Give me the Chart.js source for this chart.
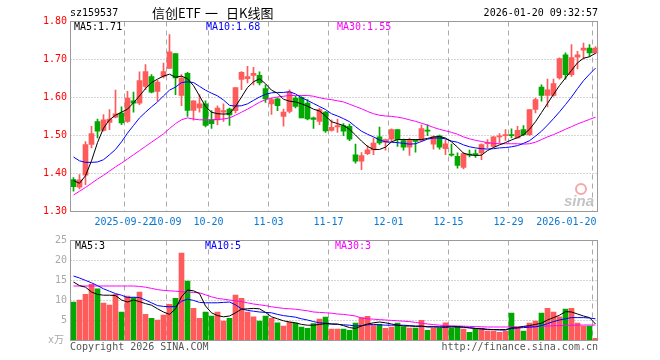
<!DOCTYPE html>
<html><head><meta charset="utf-8">
<script src="https://cdn.jsdelivr.net/npm/chart.js@4.4.1/dist/chart.umd.min.js"></script>
<style>
html,body{margin:0;padding:0;background:#fff;width:660px;height:360px;overflow:hidden;}
#wrap{position:relative;width:660px;height:360px;font-family:"DejaVu Sans Mono",monospace;font-size:10px;color:#000;}
canvas{position:absolute;left:0;}
.t{position:absolute;white-space:nowrap;line-height:12px;}
.cj{font-family:'Noto Sans CJK SC';font-size:13px;line-height:19px;top:3px;}
</style></head><body>
<div id="wrap">
<canvas id="pc" width="660" height="235" style="top:0"></canvas>
<canvas id="vc" width="660" height="125" style="top:235px"></canvas>
<div class="t" style="left:70px;top:7px;">sz159537</div>
<div class="t cj" style="left:152px;">信创ETF</div>
<div class="t cj" style="left:205px;">一</div>
<div class="t cj" style="left:226px;">日K线图</div>
<div class="t" style="right:62px;top:7px;">2026-01-20 09:32:57</div>
<div class="t" style="left:74px;top:21px;color:#000;">MA5:1.71</div>
<div class="t" style="left:206px;top:21px;color:#0000ff;">MA10:1.68</div>
<div class="t" style="left:337px;top:21px;color:#ff00ff;">MA30:1.55</div>
<div class="t" style="left:75px;top:240px;color:#000;">MA5:3</div>
<div class="t" style="left:205px;top:240px;color:#0000ff;">MA10:5</div>
<div class="t" style="left:335px;top:240px;color:#ff00ff;">MA30:3</div>
<div class="t" style="left:70px;top:341px;color:#555;">Copyright 2026 SINA.COM</div>
<div class="t" style="right:62px;top:341px;color:#555;">http://finance.sina.com.cn</div>
<div style="position:absolute;left:575px;top:183px;width:8px;height:8px;border:2px solid #f4a8a8;border-radius:50%;"></div>
<div class="t" style="left:564px;top:193px;font-family:'Liberation Sans';font-style:italic;font-weight:bold;font-size:15px;line-height:15px;color:#c4c4c4;">sina</div>
</div>
<script>
const categories = ["09-09","09-10","09-11","09-12","09-15","09-16","09-17","09-18","09-19","09-22",
"09-23","09-24","09-25","09-26","09-29","09-30","10-09","10-10","10-13","10-14",
"10-15","10-16","10-17","10-20","10-21","10-22","10-23","10-24","10-27","10-28",
"10-29","10-30","10-31","11-03","11-04","11-05","11-06","11-07","11-10","11-11",
"11-12","11-13","11-14","11-17","11-18","11-19","11-20","11-21","11-24","11-25",
"11-26","11-27","11-28","12-01","12-02","12-03","12-04","12-05","12-08","12-09",
"12-10","12-11","12-12","12-15","12-16","12-17","12-18","12-19","12-22","12-23",
"12-24","12-25","12-26","12-29","12-30","12-31","01-05","01-06","01-07","01-08",
"01-09","01-12","01-13","01-14","01-15","01-16","01-19","01-20"];

const openP = [1.383,1.363,1.394,1.475,1.535,1.512,1.533,1.547,1.558,1.536,
1.590,1.584,1.628,1.654,1.615,1.654,1.675,1.714,1.604,1.662,
1.565,1.571,1.582,1.540,1.540,1.560,1.568,1.564,1.646,1.648,
1.657,1.657,1.622,1.582,1.595,1.549,1.562,1.597,1.599,1.584,
1.545,1.536,1.560,1.512,1.521,1.525,1.523,1.448,1.431,1.451,
1.461,1.495,1.481,1.489,1.514,1.485,1.468,1.486,1.486,1.512,
1.476,1.498,1.464,1.450,1.444,1.415,1.450,1.451,1.453,1.477,
1.470,1.495,1.498,1.501,1.492,1.514,1.501,1.567,1.626,1.604,
1.604,1.650,1.711,1.659,1.705,1.723,1.729,1.716];
const highP = [1.388,1.396,1.483,1.523,1.542,1.554,1.567,1.618,1.574,1.615,
1.613,1.666,1.685,1.659,1.644,1.689,1.764,1.714,1.659,1.665,
1.590,1.606,1.590,1.564,1.577,1.582,1.571,1.625,1.667,1.681,
1.678,1.666,1.632,1.597,1.597,1.568,1.619,1.602,1.601,1.593,
1.547,1.571,1.562,1.540,1.542,1.530,1.529,1.476,1.454,1.472,
1.492,1.521,1.489,1.516,1.514,1.489,1.492,1.488,1.527,1.527,
1.498,1.500,1.488,1.476,1.453,1.454,1.460,1.461,1.477,1.488,
1.496,1.504,1.514,1.516,1.523,1.525,1.567,1.597,1.632,1.647,
1.647,1.703,1.716,1.738,1.720,1.742,1.738,1.733];
const lowP = [1.352,1.358,1.369,1.466,1.492,1.510,1.514,1.545,1.527,1.533,
1.560,1.580,1.619,1.611,1.590,1.650,1.675,1.606,1.577,1.549,
1.539,1.560,1.521,1.517,1.527,1.536,1.525,1.558,1.619,1.637,
1.632,1.632,1.586,1.554,1.564,1.523,1.558,1.571,1.545,1.540,
1.517,1.527,1.507,1.510,1.507,1.498,1.485,1.426,1.409,1.448,
1.448,1.475,1.460,1.483,1.470,1.460,1.446,1.455,1.483,1.498,
1.463,1.463,1.448,1.444,1.413,1.411,1.442,1.441,1.435,1.466,
1.468,1.479,1.486,1.492,1.492,1.498,1.498,1.558,1.589,1.574,
1.602,1.647,1.647,1.654,1.674,1.700,1.707,1.714];
const closeP = [1.364,1.382,1.475,1.504,1.510,1.540,1.542,1.556,1.532,1.597,
1.584,1.643,1.667,1.613,1.639,1.667,1.719,1.650,1.650,1.565,
1.590,1.582,1.525,1.530,1.571,1.564,1.553,1.625,1.665,1.654,
1.662,1.637,1.595,1.593,1.577,1.560,1.613,1.575,1.545,1.542,
1.541,1.567,1.511,1.520,1.525,1.510,1.489,1.431,1.446,1.461,
1.479,1.479,1.488,1.514,1.488,1.468,1.485,1.483,1.517,1.510,
1.495,1.468,1.477,1.447,1.420,1.451,1.447,1.448,1.475,1.480,
1.495,1.498,1.501,1.498,1.512,1.501,1.567,1.593,1.604,1.619,
1.635,1.701,1.659,1.704,1.711,1.729,1.716,1.729];

const ma5 = [1.380,1.373,1.393,1.432,1.480,1.518,1.540,1.552,1.560,1.568,
1.585,1.603,1.622,1.638,1.647,1.655,1.660,1.652,1.655,1.648,
1.630,1.603,1.575,1.560,1.556,1.555,1.556,1.575,1.600,1.625,
1.640,1.648,1.635,1.618,1.610,1.594,1.589,1.587,1.582,1.576,
1.568,1.563,1.550,1.535,1.530,1.525,1.515,1.500,1.484,1.470,
1.462,1.462,1.468,1.482,1.488,1.488,1.488,1.488,1.488,1.491,
1.495,1.496,1.492,1.482,1.468,1.452,1.448,1.446,1.447,1.459,
1.467,1.474,1.480,1.487,1.493,1.501,1.515,1.535,1.559,1.583,
1.607,1.630,1.650,1.670,1.690,1.702,1.706,1.715];
const ma10 = [1.442,1.432,1.428,1.428,1.429,1.435,1.448,1.462,1.482,1.505,
1.525,1.545,1.560,1.574,1.587,1.603,1.618,1.626,1.638,1.640,
1.638,1.628,1.618,1.610,1.603,1.592,1.578,1.576,1.577,1.582,
1.591,1.600,1.607,1.611,1.612,1.612,1.614,1.608,1.598,1.591,
1.583,1.575,1.567,1.556,1.550,1.543,1.535,1.522,1.510,1.502,
1.495,1.487,1.482,1.481,1.480,1.478,1.476,1.477,1.483,1.489,
1.492,1.492,1.490,1.484,1.481,1.474,1.469,1.466,1.464,1.463,
1.464,1.466,1.467,1.469,1.472,1.478,1.485,1.497,1.510,1.526,
1.543,1.561,1.580,1.600,1.622,1.643,1.660,1.676];
const ma30 = [1.342,1.352,1.362,1.373,1.384,1.394,1.405,1.416,1.426,1.437,
1.448,1.459,1.470,1.481,1.492,1.503,1.517,1.530,1.540,1.545,
1.542,1.540,1.540,1.540,1.541,1.542,1.545,1.552,1.560,1.568,
1.577,1.586,1.593,1.597,1.600,1.602,1.604,1.604,1.604,1.604,
1.602,1.598,1.595,1.593,1.590,1.587,1.581,1.575,1.569,1.562,
1.556,1.552,1.550,1.549,1.547,1.544,1.540,1.536,1.531,1.526,
1.520,1.515,1.511,1.507,1.502,1.495,1.490,1.486,1.483,1.480,
1.478,1.477,1.477,1.477,1.477,1.476,1.477,1.481,1.488,1.495,
1.501,1.508,1.515,1.522,1.529,1.535,1.541,1.547];

const volume = [9.5,10.0,11.4,13.9,12.8,9.2,8.7,11.4,7.0,11.0,
10.6,12.0,6.4,5.4,5.0,6.2,8.9,10.4,21.7,14.7,
7.9,5.4,7.0,6.0,7.0,4.75,5.4,11.2,10.4,7.0,
5.8,4.75,6.0,5.4,4.3,3.5,4.5,4.2,3.25,2.9,
4.1,5.2,5.75,2.7,2.7,2.7,2.4,4.2,5.6,5.9,
3.7,3.9,2.9,3.2,4.2,3.3,3.0,3.0,4.9,2.4,
3.0,2.9,4.3,3.0,3.3,2.7,1.9,2.7,2.9,2.25,
2.25,1.9,2.25,6.7,2.9,2.2,4.2,4.7,6.7,7.9,
7.0,5.8,7.7,7.9,4.2,3.5,3.5,0.4];
const vma5 = [14.5,13.6,13.2,12.0,11.4,11.2,11.2,11.1,10.0,9.5,
10.0,9.6,9.1,8.7,7.8,7.0,6.4,7.8,10.8,12.5,
12.3,11.6,8.5,6.8,6.1,5.8,6.0,6.8,7.7,7.8,
7.9,7.8,6.9,5.8,5.3,4.8,4.5,4.3,3.9,3.7,
3.7,3.9,4.1,4.0,4.0,3.6,3.1,2.9,3.5,4.0,
4.3,4.5,4.3,4.0,3.7,3.5,3.5,3.4,3.5,3.3,
3.3,3.2,3.2,3.3,3.3,3.2,3.0,2.9,2.8,2.6,
2.6,2.6,2.6,3.0,3.1,3.4,3.6,3.9,4.2,5.0,
5.6,6.2,7.1,7.0,6.5,6.0,5.6,4.0];
const vma10 = [16.0,15.5,14.9,14.3,13.6,12.8,12.2,11.6,11.2,10.6,
10.7,10.6,10.0,9.3,8.6,8.4,8.3,8.4,9.7,10.2,
9.9,9.4,9.3,9.3,9.3,9.4,9.5,8.8,7.8,7.4,
7.2,7.0,6.9,6.8,6.4,6.1,5.9,5.7,5.3,5.0,
4.6,4.3,4.2,4.0,3.9,3.8,3.7,3.5,3.6,3.8,
3.9,3.8,3.7,3.7,3.7,3.7,3.6,3.5,3.4,3.3,
3.3,3.3,3.3,3.3,3.3,3.2,3.1,2.9,2.8,2.7,
2.6,2.5,2.5,2.9,3.0,3.1,3.2,3.3,3.6,4.1,
4.6,5.0,5.3,5.6,5.6,5.6,5.5,5.3];
const vma30 = [13.5,13.5,13.5,13.5,13.5,13.5,13.5,13.5,13.5,13.5,
13.5,13.4,13.2,12.9,12.6,12.4,12.3,12.2,12.1,12.0,
11.9,11.8,11.3,10.8,10.4,10.2,10.0,9.8,9.6,9.3,
9.0,8.8,8.6,8.3,8.1,7.9,7.8,7.7,7.5,7.3,
7.0,6.9,6.8,6.7,6.5,6.4,6.2,6.0,5.5,5.3,
5.2,5.1,5.0,4.9,4.8,4.7,4.6,4.4,4.2,4.0,
3.85,3.7,3.6,3.55,3.5,3.45,3.4,3.35,3.3,3.25,
3.25,3.25,3.25,3.3,3.3,3.3,3.35,3.4,3.45,3.5,
3.55,3.6,3.65,3.7,3.7,3.75,3.75,3.75];

const xTickIndex = [9,16,23,33,43,53,63,73,87];
const xTickLabels = ["2025-09-22","10-09","10-20","11-03","11-17","12-01","12-15","12-29","2026-01-20"];
const priceTicks = [1.30,1.40,1.50,1.60,1.70,1.80];
const volTicks = [5,10,15,20,25];
const volUnit = "x万";

const RED = '#ff5b5b', GREEN = '#00a800';
const candleColors = closeP.map((c,i)=> c >= openP[i] ? RED : GREEN);
const bodies = closeP.map((c,i)=>[Math.min(c,openP[i]), Math.max(c,openP[i])]);
const wicks = highP.map((h,i)=>[lowP[i], h]);

const FONT = "10px 'DejaVu Sans Mono', 'Noto Sans CJK SC', monospace";

function frameAndGrid(chart, hVals){
  const {ctx, chartArea:a, scales:{x,y}} = chart;
  const L = Math.floor(a.left)+0.5, R = Math.floor(a.right)-0.5;
  const T = Math.floor(a.top)+0.5, B = Math.floor(a.bottom)+0.5;
  ctx.save();
  ctx.lineWidth = 1;
  ctx.strokeStyle = '#aaaaaa';
  ctx.setLineDash([1,2]);
  hVals.forEach(v=>{
    const py = Math.round(y.getPixelForValue(v))+0.5;
    ctx.beginPath(); ctx.moveTo(L,py); ctx.lineTo(R,py); ctx.stroke();
  });
  ctx.setLineDash([5,4]);
  xTickIndex.forEach(i=>{
    const px = Math.floor(x.getPixelForValue(i)-3)+0.5;
    ctx.beginPath(); ctx.moveTo(px,T); ctx.lineTo(px,B); ctx.stroke();
  });
  ctx.restore();
}

function drawBorder(chart){
  const {ctx, chartArea:a} = chart;
  const L = Math.floor(a.left)+0.5, R = Math.floor(a.right)-0.5;
  const T = Math.floor(a.top)+0.5, B = Math.floor(a.bottom)+0.5;
  ctx.save();
  ctx.lineWidth = 1; ctx.strokeStyle = '#9a9a9a'; ctx.setLineDash([]);
  ctx.strokeRect(L,T,R-L,B-T);
  ctx.restore();
}

const pricePlugin = {
  id:'pricePlugin',
  beforeDatasetsDraw(chart){ frameAndGrid(chart, priceTicks.slice(1,-1)); },
  afterDraw(chart){
    drawBorder(chart);
    const {ctx, chartArea:a, scales:{x,y}} = chart;
    ctx.save();
    ctx.font = FONT;
    ctx.textBaseline = 'middle';
    ctx.fillStyle = '#ff0000';
    ctx.textAlign = 'right';
    priceTicks.forEach(v=>{ ctx.fillText(v.toFixed(2), 67, y.getPixelForValue(v)); });
    ctx.fillStyle = '#0a78d2';
    ctx.textAlign = 'center';
    xTickIndex.forEach((idx,k)=>{
      const s = xTickLabels[k];
      const w = ctx.measureText(s).width;
      let px = x.getPixelForValue(idx)-3;
      if (px + w/2 > a.right - 2) px = a.right - 2 - w/2;
      ctx.fillText(s, px, a.bottom + 11);
    });
    ctx.restore();
  }
};

const volPlugin = {
  id:'volPlugin',
  beforeDatasetsDraw(chart){ frameAndGrid(chart, volTicks.slice(0,-1)); },
  afterDraw(chart){
    drawBorder(chart);
    const {ctx, scales:{y}} = chart;
    ctx.save();
    ctx.font = FONT;
    ctx.textBaseline = 'middle';
    ctx.fillStyle = '#a8a8a8';
    ctx.textAlign = 'right';
    volTicks.forEach(v=>{ ctx.fillText(String(v), 67, y.getPixelForValue(v)); });
    ctx.fillText(volUnit, 64, y.getPixelForValue(0));
    ctx.restore();
  }
};

const lineDs = (data,color,order)=>({type:'line', data, borderColor:color, borderWidth:1, pointRadius:0, tension:0, fill:false, order});

new Chart(document.getElementById('pc'), {
  type:'bar',
  data:{labels:categories, datasets:[
    lineDs(ma5,'#000000',0),
    lineDs(ma10,'#0000ff',1),
    lineDs(ma30,'#ff00ff',2),
    {type:'bar', data:bodies, backgroundColor:candleColors, borderWidth:0, barThickness:5, grouped:false, minBarLength:1, order:3},
    {type:'bar', data:wicks, backgroundColor:candleColors, borderWidth:0, barThickness:1, grouped:false, order:4}
  ]},
  options:{
    responsive:false, animation:false, devicePixelRatio:1, events:[],
    layout:{padding:{left:70.5, right:61.5, top:21, bottom:24}},
    plugins:{legend:{display:false}, tooltip:{enabled:false}},
    scales:{
      x:{type:'category', display:false, offset:true},
      y:{type:'linear', display:false, min:1.30, max:1.80}
    }
  },
  plugins:[pricePlugin]
});

new Chart(document.getElementById('vc'), {
  type:'bar',
  data:{labels:categories, datasets:[
    lineDs(vma5,'#000000',0),
    lineDs(vma10,'#0000ff',1),
    lineDs(vma30,'#ff00ff',2),
    {type:'bar', data:volume, backgroundColor:candleColors, borderWidth:0, barThickness:5, grouped:false, order:3}
  ]},
  options:{
    responsive:false, animation:false, devicePixelRatio:1, events:[],
    layout:{padding:{left:70.5, right:61.5, top:5, bottom:20}},
    plugins:{legend:{display:false}, tooltip:{enabled:false}},
    scales:{
      x:{type:'category', display:false, offset:true},
      y:{type:'linear', display:false, min:0, max:25}
    }
  },
  plugins:[volPlugin]
});
</script>
</body></html>
